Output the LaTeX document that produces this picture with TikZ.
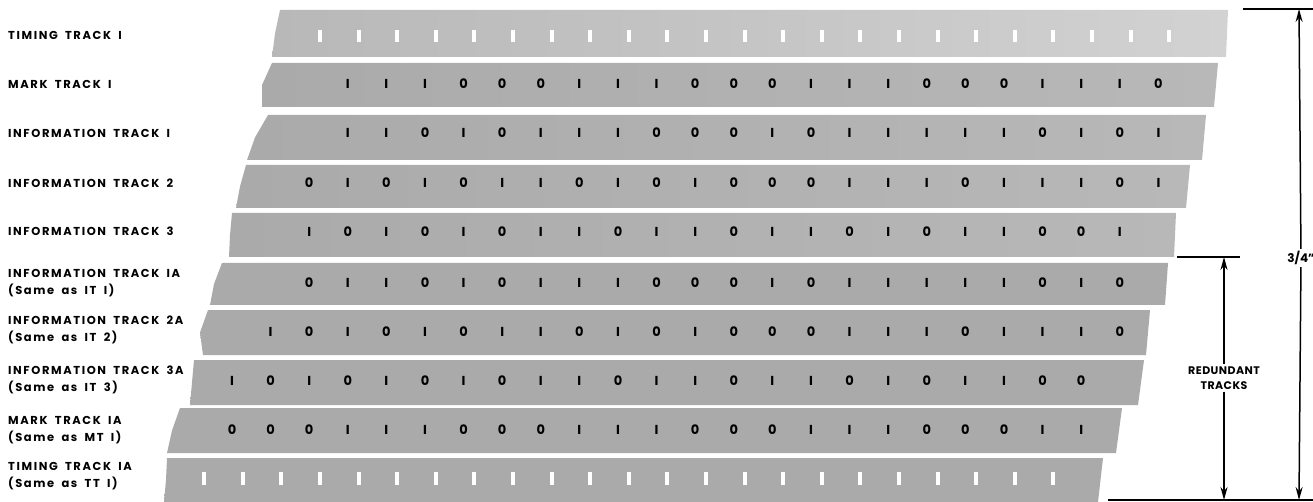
\documentclass[tikz,border=0pt]{standalone}
\usepackage{fontspec}
\setmainfont{Poppins}
\newfontfamily\labelfont{Poppins}[LetterSpace=14,WordSpace=1.8]
\usepackage{xcolor}
\definecolor{tapedark}{RGB}{170,170,170}
\definecolor{tapemid}{RGB}{184,184,184}
\definecolor{tapelight}{RGB}{210,210,210}
\usetikzlibrary{arrows.meta}
\begin{document}
\begin{tikzpicture}[x=1pt,y=-1pt,>={Stealth[length=13pt,width=7pt]},
  lbl/.style={anchor=west,align=left,inner sep=0pt,font=\labelfont\fontsize{11.5}{17}\selectfont\bfseries},
  bit/.style={inner sep=0pt,font=\fontsize{13}{13}\selectfont\bfseries},
  dim/.style={line width=1.5pt},
  dimtext/.style={inner sep=2pt,align=center,font=\fontsize{11}{15}\selectfont\bfseries\addfontfeatures{LetterSpace=4}}]
\useasboundingbox (0,0) rectangle (1313,502);
\foreach \t/\b/\lt/\lm/\lb/\rt/\rb/\cl/\cr in {
  10/57/280/275/272/1228/1226/tapemid/tapelight,
  63/107/272/262/262/1218/1214/tapedark/tapemid,
  115/160/268/255/247/1206/1202/tapedark/tapemid,
  165/208/246/240/236/1190/1186/tapedark/tapemid,
  213/257/232/230/229/1176/1174/tapedark/tapemid,
  263/305/222/214/210/1168/1165/tapedark/tapedark,
  310/355/208/200/203/1150/1146/tapedark/tapedark,
  360/405/194/192/190/1144/1138/tapedark/tapedark,
  408/453/180/172/167/1122/1116/tapedark/tapedark,
  458/502/167/166/164/1103/1098/tapedark/tapedark}
  \shade[left color=\cl,right color=\cr] (\lt,\t) -- (\rt,\t) -- (\rb,\b) -- (\lb,\b) -- (\lm,{(\t+\b)/2}) -- cycle;
\foreach \k in {0,...,22}
  \fill[white] ({320+38.6*\k-2},30) rectangle +(4,12);
\foreach \k in {-3,...,19}
  \fill[white] ({320+38.6*\k-2},472) rectangle +(4,13);
\foreach \v [count=\c from 3] in {I,I,I,0,0,0,I,I,I,0,0,0,I,I,I,0,0,0,I,I,I,0}
  \node[bit] (mt1-\c) at ({232+38.6*\c},84) {\v};
\foreach \v [count=\c from 3] in {I,I,0,I,0,I,I,I,0,0,0,I,0,I,I,I,I,I,0,I,0,I}
  \node[bit] (it1-\c) at ({232+38.6*\c},133) {\v};
\foreach \v [count=\c from 2] in {0,I,0,I,0,I,I,0,I,0,I,0,0,0,I,I,I,0,I,I,I,0,I}
  \node[bit] (it2-\c) at ({232+38.6*\c},183) {\v};
\foreach \v [count=\c from 2] in {I,0,I,0,I,0,I,I,0,I,I,0,I,I,0,I,0,I,I,0,0,I}
  \node[bit] (it3-\c) at ({232+38.6*\c},232) {\v};
\foreach \v [count=\c from 2] in {0,I,I,0,I,0,I,I,I,0,0,0,I,0,I,I,I,I,I,0,I,0}
  \node[bit] (it1a-\c) at ({232+38.6*\c},283) {\v};
\foreach \v [count=\c from 1] in {I,0,I,0,I,0,I,I,0,I,0,I,0,0,0,I,I,I,0,I,I,I,0}
  \node[bit] (it2a-\c) at ({232+38.6*\c},332) {\v};
\foreach \v [count=\c from 0] in {I,0,I,0,I,0,I,0,I,I,0,I,I,0,I,I,0,I,0,I,I,0,0}
  \node[bit] (it3a-\c) at ({232+38.6*\c},381) {\v};
\foreach \v [count=\c from 0] in {0,0,0,I,I,I,0,0,0,I,I,I,0,0,0,I,I,I,0,0,0,I,I}
  \node[bit] (mt1a-\c) at ({232+38.6*\c},430) {\v};
\node[lbl] (lbltt1) at (8,35) {TIMING TRACK I};
\node[lbl] (lblmt1) at (8,84) {MARK TRACK I};
\node[lbl] (lblit1) at (8,133) {INFORMATION TRACK I};
\node[lbl] (lblit2) at (8,183) {INFORMATION TRACK 2};
\node[lbl] (lblit3) at (8,231) {INFORMATION TRACK 3};
\node[lbl] (lblit1a) at (8,283.5) {INFORMATION TRACK IA\\(Same as IT I)};
\node[lbl] (lblit2a) at (8,330) {INFORMATION TRACK 2A\\(Same as IT 2)};
\node[lbl] (lblit3a) at (8,379.5) {INFORMATION TRACK 3A\\(Same as IT 3)};
\node[lbl] (lblmt1a) at (8,430) {MARK TRACK IA\\(Same as MT I)};
\node[lbl] (lbltt1a) at (8,476.5) {TIMING TRACK IA\\(Same as TT I)};
\coordinate (tapetop) at (1299,9);
\coordinate (tapebot) at (1299,500);
\coordinate (redtop) at (1224,257);
\coordinate (redbot) at (1224,500);
\draw[dim] (1243,9) -- (1313,9);
\draw[dim] (1177,257) -- (1240,257);
\draw[dim] (1108,500) -- (1313,500);
\node[dimtext,font=\fontsize{12}{14}\selectfont\bfseries] (width) at (1301,258) {3/4"};
\node[dimtext] (redundant) at (1224,378) {REDUNDANT\\TRACKS};
\draw[dim,->] (width) -- (tapetop);
\draw[dim,->] (width) -- (tapebot);
\draw[dim,->] (redundant) -- (redtop);
\draw[dim,->] (redundant) -- (redbot);
\end{tikzpicture}
\end{document}
